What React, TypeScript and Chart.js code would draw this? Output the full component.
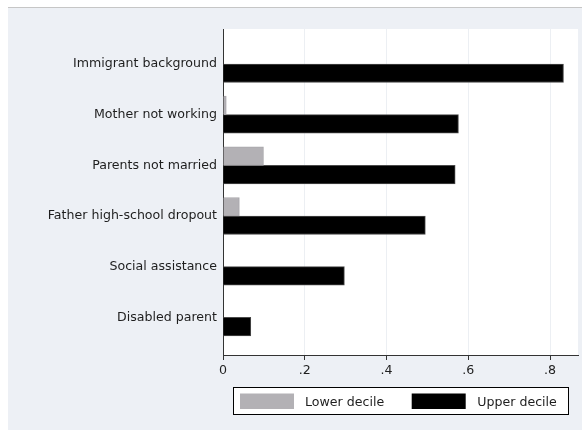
import React, { useEffect, useRef } from "react";
import { Chart, registerables } from "chart.js";

Chart.register(...registerables);

const categories = [
  "Immigrant background",
  "Mother not working",
  "Parents not married",
  "Father high-school dropout",
  "Social assistance",
  "Disabled parent",
];
const lowerDecile = [0, 0.008, 0.099, 0.04, 0, 0];
const upperDecile = [0.833, 0.576, 0.568, 0.495, 0.297, 0.068];
const xTicks = [0, 0.2, 0.4, 0.6, 0.8];
const seriesNames = ["Lower decile", "Upper decile"];

const FONT = "'DejaVu Sans', sans-serif";
const FONT_SIZE = 12.6;
const BG = "#edf0f5";
const GRAY = "#b3b1b5";
const TEXT = "#1e1e1e";

const bgPlugin = {
  id: "bgPlugin",
  beforeDraw(chart: any) {
    const { ctx, chartArea: a, width, height } = chart;
    ctx.save();
    ctx.fillStyle = BG;
    ctx.fillRect(0, 0, width, height);
    ctx.fillStyle = "#ffffff";
    ctx.fillRect(a.left, a.top, a.right - a.left, a.bottom - a.top);
    ctx.restore();
  },
};

const legendPlugin = {
  id: "boxLegend",
  afterDraw(chart: any) {
    const { ctx } = chart;
    ctx.save();
    ctx.fillStyle = "#ffffff";
    ctx.fillRect(225.5, 379.5, 335, 27);
    ctx.strokeStyle = "#000000";
    ctx.lineWidth = 1;
    ctx.strokeRect(225.5, 379.5, 335, 27);
    const colors = [GRAY, "#000000"];
    const swX = [232, 403.7];
    const txX = [297, 469.3];
    ctx.font = `${FONT_SIZE}px ${FONT}`;
    ctx.textBaseline = "middle";
    ctx.textAlign = "left";
    for (let i = 0; i < seriesNames.length; i++) {
      ctx.fillStyle = colors[i];
      ctx.fillRect(swX[i], 385.5, 54, 15.5);
      ctx.fillStyle = TEXT;
      ctx.fillText(seriesNames[i], txX[i], 394.7);
    }
    ctx.restore();
  },
};

export default function App() {
  const ref = useRef<HTMLCanvasElement>(null);

  useEffect(() => {
    if (!ref.current) return;
    const chart = new Chart(ref.current, {
      type: "bar",
      data: {
        datasets: [
          {
            label: seriesNames[0],
            data: lowerDecile.map((v, i) => ({ x: v, y: i })),
            backgroundColor: GRAY,
            borderColor: "#a8a6aa",
            borderWidth: 1,
            barThickness: 18.5,
          },
          {
            label: seriesNames[1],
            data: upperDecile.map((v, i) => ({ x: v, y: i })),
            backgroundColor: "#000000",
            borderColor: "#4a4a4a",
            borderWidth: 1,
            barThickness: 18.5,
          },
        ],
      } as any,
      options: {
        animation: false,
        responsive: false,
        indexAxis: "y",
        layout: { padding: { left: 0, top: 21, right: 4, bottom: 45 } },
        plugins: { legend: { display: false }, tooltip: { enabled: false } },
        scales: {
          x: {
            type: "linear",
            min: 0,
            max: 0.8685,
            offset: false,
            afterBuildTicks: (s: any) => {
              s.ticks = xTicks.map((v) => ({ value: v }));
            },
            afterFit: (s: any) => {
              s.height = 30;
            },
            grid: {
              color: "#eceff3",
              tickColor: "#333333",
              tickLength: 5,
              drawTicks: true,
              lineWidth: 1,
              offset: false,
            },
            border: { color: "#333333", width: 1 },
            ticks: {
              padding: 3,
              color: TEXT,
              font: { family: FONT, size: FONT_SIZE },
              autoSkip: false,
              maxRotation: 0,
              callback: (v: any) =>
                Number(v) === 0 ? "0" : String(v).replace(/^0\./, "."),
            },
          },
          y: {
            type: "linear",
            reverse: true,
            min: -0.69,
            max: 5.744,
            offset: false,
            afterBuildTicks: (s: any) => {
              s.ticks = categories.map((_, i) => ({ value: i }));
            },
            afterFit: (s: any) => {
              s.width = 215;
            },
            grid: { display: false, drawTicks: false, offset: false },
            border: { display: true, color: "#333333", width: 1 },
            ticks: {
              padding: 6,
              color: TEXT,
              font: { family: FONT, size: FONT_SIZE },
              autoSkip: false,
              callback: (v: any) => categories[Number(v)] ?? "",
            },
          },
        },
      } as any,
      plugins: [bgPlugin, legendPlugin],
    });
    return () => chart.destroy();
  }, []);

  return (
    <div
      style={{
        position: "absolute",
        left: 8,
        top: 7,
        width: 574,
        height: 422,
        borderTop: "1px solid #c6c6c6",
      }}
    >
      <canvas ref={ref} width={574} height={422} style={{ display: "block" }} />
    </div>
  );
}
